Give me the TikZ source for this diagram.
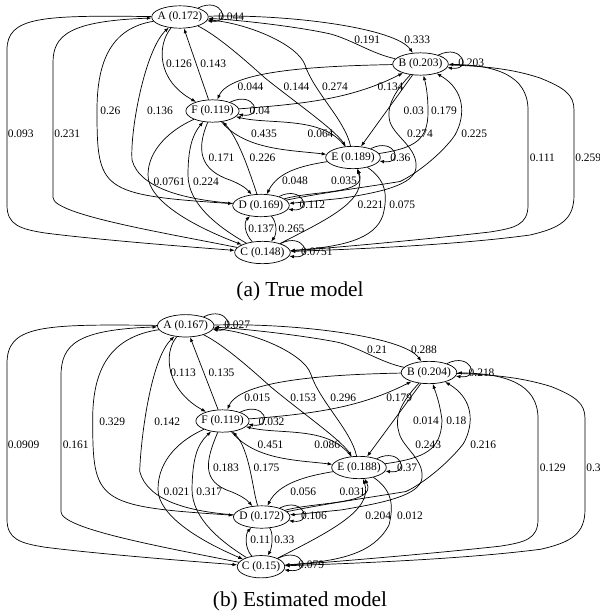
\documentclass[tikz,border=0pt]{standalone}
\usepackage{fontspec}
\setmainfont{Liberation Serif}
\usetikzlibrary{shapes.geometric,arrows.meta,calc}

\begin{document}
\begin{tikzpicture}[x=0.03cm, y=-0.03cm, line width=0.6pt, >={Latex[length=4pt,width=3pt]}, font=\fontsize{9.8}{11}\selectfont]
	\tikzstyle{state} = [ellipse, draw, inner xsep=-2pt, inner ysep=2.3pt]
	\tikzstyle{prob} = [anchor=west, inner sep=0pt]
	\tikzstyle{caption} = [font=\fontsize{18.2}{22}\selectfont]
	\useasboundingbox (0,0) rectangle (600,616);

	% (a) true model
	\node[state] (tA) at (180, 17) {A (0.172)};
	\node[state] (tB) at (420.5, 64) {B (0.203)};
	\node[state] (tF) at (212.5, 111) {F (0.119)};
	\node[state] (tE) at (353, 157.5) {E (0.189)};
	\node[state] (tD) at (261, 205.5) {D (0.169)};
	\node[state] (tC) at (262.5, 252.5) {C (0.148)};
	\draw [->] (tA) .. controls ($(tA)+(42,-21)$) and ($(tA)+(52,7)$) .. (tA) node[prob] at (218,17) {0.044};
	\draw [->] (tA) .. controls ($(tA)+(110,-3)$) and ($(tB)+(-25,-36)$) .. (tB) node[prob] at (404,40) {0.333};
	\draw [->] (tB) .. controls ($(tB)+(-48,-10)$) and ($(tB)+(-68,-24)$) .. ($(tB)+(-90,-30)$) .. controls ($(tA)+(120,10)$) and ($(tA)+(60,3)$) .. (tA) node[prob] at (354,40) {0.191};
	\draw [->] (tA) .. controls ($(tA)+(-23,28)$) and ($(tF)+(-56,-31)$) .. (tF) node[prob] at (165.7,64) {0.126};
	\draw [->] (tF) -- (tA) node[prob] at (200,64) {0.143};
	\draw [->] (tA) .. controls ($(tA)+(38,19)$) and ($(tA)+(65,43)$) .. ($(tA)+(85,61)$) .. controls ($(tE)+(-58,-55.5)$) and ($(tE)+(-18,-27.5)$) .. (tE) node[prob] at (283.3,87) {0.144};
	\draw [->] (tE) .. controls ($(tE)+(-8,-37.5)$) and ($(tE)+(-39,-65.5)$) .. ($(tA)+(125,48)$) .. controls ($(tA)+(118,28)$) and ($(tA)+(70,7)$) .. (tA) node[prob] at (321.7,87) {0.274};
	\draw [->] (tA) .. controls ($(tA)+(-68,11)$) and ($(tA)+(-83,43)$) .. ($(tA)+(-83,93)$) .. controls ($(tD)+(-164,-15.5)$) and ($(tD)+(-161,-10.5)$) .. (tD) node[prob] at (100,111) {0.26};
	\draw [->] (tD) .. controls ($(tD)+(-71,-5.5)$) and ($(tD)+(-121,-15.5)$) .. ($(tD)+(-129,-45.5)$) .. controls ($(tA)+(-50,113)$) and ($(tA)+(-35,33)$) .. (tA) node[prob] at (146.7,111) {0.136};
	\draw [->] (tA) .. controls ($(tA)+(-140,-2)$) and ($(tA)+(-173,0)$) .. ($(tC)+(-255.5,-202.5)$) -- ($(tC)+(-255.5,-47.5)$) .. controls ($(tC)+(-255.5,-27.5)$) and ($(tC)+(-242.5,-23.5)$) .. ($(tC)+(-217.5,-19.5)$) .. controls ($(tC)+(-162.5,-12.5)$) and ($(tC)+(-72.5,-5.5)$) .. (tC) node[prob] at (7.5,134) {0.093};
	\draw [->] (tC) .. controls ($(tC)+(-100,-20)$) and ($(tC)+(-209.5,-38)$) .. ($(tC)+(-209.5,-55)$) -- ($(tC)+(-209.5,-190)$) .. controls ($(tA)+(-127,18)$) and ($(tA)+(-110,4)$) .. (tA) node[prob] at (54,134) {0.231};
	\draw [->] (tB) .. controls ($(tB)+(42,-21)$) and ($(tB)+(52,7)$) .. (tB) node[prob] at (458,63) {0.203};
	\draw [->] (tB) .. controls ($(tB)+(-100,2)$) and ($(tF)+(17.5,-41)$) .. (tF) node[prob] at (237.3,87) {0.044};
	\draw [->] (tF) .. controls ($(tF)+(87.5,-7)$) and ($(tB)+(-70.5,36)$) .. (tB) node[prob] at (377.3,87) {0.134};
	\draw [->] (tB) -- (tE) node[prob] at (403.3,111) {0.03};
	\draw [->] (tE) .. controls ($(tE)+(62,-9.5)$) and ($(tE)+(75,-17.5)$) .. ($(tB)+(7.5,48)$) .. controls ($(tB)+(7.5,31)$) and ($(tB)+(5.5,21)$) .. (tB) node[prob] at (430.7,111) {0.179};
	\draw [->] (tB) .. controls ($(tB)+(-22.5,24)$) and ($(tB)+(-35.5,41)$) .. ($(tB)+(-30.5,58)$) .. controls ($(tE)+(42,-20.5)$) and ($(tE)+(65,-9.5)$) .. ($(tE)+(63,10.5)$) .. controls ($(tE)+(61,27.5)$) and ($(tE)+(27,35)$) .. ($(tD)+(79,-7)$) .. controls ($(tD)+(59,-5)$) and ($(tD)+(39,-3)$) .. (tD) node[prob] at (406.7,134) {0.274};
	\draw [->] (tD) .. controls ($(tD)+(59,-12.5)$) and ($(tE)+(17,29)$) .. ($(tE)+(47,24)$) .. controls ($(tE)+(67,14.5)$) and ($(tE)+(92,-7.5)$) .. ($(tB)+(34.5,71)$) .. controls ($(tB)+(45.5,51)$) and ($(tB)+(44.5,26)$) .. (tB) node[prob] at (461,134) {0.225};
	\draw [->] (tC) .. controls ($(tC)+(57.5,-3.5)$) and ($(tC)+(157.5,-12.5)$) .. ($(tC)+(227.5,-20.5)$) .. controls ($(tC)+(252.5,-24.5)$) and ($(tC)+(265.5,-27.5)$) .. ($(tC)+(265.5,-47.5)$) -- ($(tB)+(107.5,46)$) .. controls ($(tB)+(107.5,11)$) and ($(tB)+(74.5,1)$) .. (tB) node[prob] at (529.5,158) {0.111};
	\draw [->] (tB) .. controls ($(tB)+(59.5,2)$) and ($(tB)+(89.5,4)$) .. ($(tB)+(119.5,14)$) .. controls ($(tB)+(144.5,24)$) and ($(tB)+(153.5,31)$) .. ($(tB)+(153.5,46)$) -- ($(tC)+(311.5,-57.5)$) .. controls ($(tC)+(311.5,-32.5)$) and ($(tC)+(297.5,-24.5)$) .. ($(tC)+(267.5,-17.5)$) .. controls ($(tC)+(187.5,-6.5)$) and ($(tC)+(67.5,-2.5)$) .. (tC) node[prob] at (575,158) {0.259};
	\draw [->] (tF) .. controls ($(tF)+(42,-21)$) and ($(tF)+(52,7)$) .. (tF) node[prob] at (249.3,111) {0.04};
	\draw [->] (tF) .. controls ($(tF)+(32.5,39)$) and ($(tE)+(-63,-7.5)$) .. (tE) node[prob] at (250.7,134) {0.435};
	\draw [->] (tE) .. controls ($(tE)+(-30,-42)$) and ($(tF)+(57.5,14)$) .. (tF) node[prob] at (307.3,134) {0.064};
	\draw [->] (tF) .. controls ($(tF)+(-16.5,39)$) and ($(tD)+(-61,-35.5)$) .. ($(tD)+(-31,-25.5)$) .. controls ($(tD)+(-21,-21.5)$) and ($(tD)+(-15,-17.5)$) .. (tD) node[prob] at (208.3,158) {0.171};
	\draw [->] (tD) .. controls ($(tD)+(-9,-25.5)$) and ($(tF)+(27.5,29)$) .. (tF) node[prob] at (249.3,158) {0.226};
	\draw [->] (tF) .. controls ($(tF)+(-42.5,19)$) and ($(tF)+(-64.5,39)$) .. ($(tC)+(-114.5,-77.5)$) .. controls ($(tC)+(-114.5,-52.5)$) and ($(tC)+(-72.5,-27.5)$) .. (tC) node[prob] at (153.3,181.7) {0.0761};
	\draw [->] (tC) .. controls ($(tC)+(-42.5,-24.5)$) and ($(tC)+(-74.5,-47.5)$) .. ($(tC)+(-74.5,-77.5)$) .. controls ($(tF)+(-24.5,39)$) and ($(tF)+(-20.5,24)$) .. (tF) node[prob] at (192.7,181.7) {0.224};
	\draw [->] (tE) .. controls ($(tE)+(42,-21)$) and ($(tE)+(52,7)$) .. (tE) node[prob] at (390,158) {0.36};
	\draw [->] (tE) .. controls ($(tE)+(-53,8.5)$) and ($(tD)+(17,-33.5)$) .. (tD) node[prob] at (281.7,181) {0.048};
	\draw [->] (tD) .. controls ($(tD)+(54,-15.5)$) and ($(tE)+(15,37.5)$) .. (tE) node[prob] at (330.7,181) {0.035};
	\draw [->] (tC) .. controls ($(tC)+(67.5,-34.5)$) and ($(tE)+(15,42.5)$) .. (tE) node[prob] at (357.3,205) {0.221};
	\draw [->] (tE) .. controls ($(tE)+(33,22.5)$) and ($(tE)+(35,37.5)$) .. ($(tE)+(30,57.5)$) .. controls ($(tC)+(112.5,-12.5)$) and ($(tC)+(77.5,-5.5)$) .. (tC) node[prob] at (389,205) {0.075};
	\draw [->] (tD) .. controls ($(tD)+(42,-21)$) and ($(tD)+(52,7)$) .. (tD) node[prob] at (299.3,205) {0.112};
	\draw [->] (tC) .. controls ($(tC)+(-18.5,-19.5)$) and ($(tD)+(-17,16.5)$) .. (tD) node[prob] at (248,228.3) {0.137};
	\draw [->] (tD) .. controls ($(tD)+(16,16.5)$) and ($(tC)+(14.5,-18.5)$) .. (tC) node[prob] at (278.3,228.3) {0.265};
	\draw [->] (tC) .. controls ($(tC)+(42,-21)$) and ($(tC)+(52,7)$) .. (tC) node[prob] at (300.7,251.7) {0.0751};
	\node[caption] (capa) at (300,291) {(a) True model};

	% (b) estimated model
	\node[state] (eA) at (185.7, 325.8) {A (0.167)};
	\node[state] (eB) at (429, 372.5) {B (0.204)};
	\node[state] (eF) at (222.5, 421) {F (0.119)};
	\node[state] (eE) at (359, 467.5) {E (0.188)};
	\node[state] (eD) at (261.7, 517) {D (0.172)};
	\node[state] (eC) at (261, 566.7) {C (0.15)};
	\draw [->] (eA) .. controls ($(eA)+(42,-21)$) and ($(eA)+(52,7)$) .. (eA) node[prob] at (224,325) {0.027};
	\draw [->] (eA) .. controls ($(eA)+(110,-3)$) and ($(eB)+(-25,-36)$) .. (eB) node[prob] at (410.7,349.3) {0.288};
	\draw [->] (eB) .. controls ($(eB)+(-48,-10)$) and ($(eB)+(-68,-24)$) .. ($(eB)+(-90,-30)$) .. controls ($(eA)+(120,10)$) and ($(eA)+(60,3)$) .. (eA) node[prob] at (366.7,349.3) {0.21};
	\draw [->] (eA) .. controls ($(eA)+(-23,28)$) and ($(eF)+(-56,-31)$) .. (eF) node[prob] at (170,372.7) {0.113};
	\draw [->] (eF) -- (eA) node[prob] at (208.3,372.7) {0.135};
	\draw [->] (eA) .. controls ($(eA)+(38,19)$) and ($(eA)+(65,43)$) .. ($(eA)+(85,61)$) .. controls ($(eE)+(-58,-55.5)$) and ($(eE)+(-18,-27.5)$) .. (eE) node[prob] at (290,397.3) {0.153};
	\draw [->] (eE) .. controls ($(eE)+(-8,-37.5)$) and ($(eE)+(-39,-65.5)$) .. ($(eA)+(125,48)$) .. controls ($(eA)+(118,28)$) and ($(eA)+(70,7)$) .. (eA) node[prob] at (330,397.3) {0.296};
	\draw [->] (eA) .. controls ($(eA)+(-75,11)$) and ($(eA)+(-93,43)$) .. ($(eA)+(-93,93)$) .. controls ($(eD)+(-169,-15.5)$) and ($(eD)+(-166,-10.5)$) .. (eD) node[prob] at (99,421.7) {0.329};
	\draw [->] (eD) .. controls ($(eD)+(-71,-5.5)$) and ($(eD)+(-114,-15.5)$) .. ($(eD)+(-122,-45.5)$) .. controls ($(eA)+(-45,113)$) and ($(eA)+(-35,33)$) .. (eA) node[prob] at (154,421.7) {0.142};
	\draw [->] (eA) .. controls ($(eA)+(-146,-2)$) and ($(eA)+(-179,0)$) .. ($(eC)+(-254,-202.5)$) -- ($(eC)+(-254,-47.5)$) .. controls ($(eC)+(-254,-27.5)$) and ($(eC)+(-241,-23.5)$) .. ($(eC)+(-216,-19.5)$) .. controls ($(eC)+(-161,-12.5)$) and ($(eC)+(-71,-5.5)$) .. (eC) node[prob] at (7.5,445) {0.0909};
	\draw [->] (eC) .. controls ($(eC)+(-100,-20)$) and ($(eC)+(-200,-38)$) .. ($(eC)+(-200,-55)$) -- ($(eC)+(-200,-190)$) .. controls ($(eA)+(-125,18)$) and ($(eA)+(-108,4)$) .. (eA) node[prob] at (62.5,445) {0.161};
	\draw [->] (eB) .. controls ($(eB)+(42,-21)$) and ($(eB)+(52,7)$) .. (eB) node[prob] at (468.3,372.7) {0.218};
	\draw [->] (eB) .. controls ($(eB)+(-100,2)$) and ($(eF)+(17.5,-41)$) .. (eF) node[prob] at (244,397.3) {0.015};
	\draw [->] (eF) .. controls ($(eF)+(87.5,-7)$) and ($(eB)+(-70.5,36)$) .. (eB) node[prob] at (386,397.3) {0.179};
	\draw [->] (eB) -- (eE) node[prob] at (412.7,420.7) {0.014};
	\draw [->] (eE) .. controls ($(eE)+(66,-9.5)$) and ($(eE)+(82,-17.5)$) .. ($(eB)+(13,48)$) .. controls ($(eB)+(11,31)$) and ($(eB)+(7,21)$) .. (eB) node[prob] at (446,420.7) {0.18};
	\draw [->] (eB) .. controls ($(eB)+(-22.5,24)$) and ($(eB)+(-35.5,41)$) .. ($(eB)+(-30.5,58)$) .. controls ($(eE)+(42,-20.5)$) and ($(eE)+(65,-9.5)$) .. ($(eE)+(63,10.5)$) .. controls ($(eE)+(61,27.5)$) and ($(eE)+(27,35)$) .. ($(eD)+(79,-7)$) .. controls ($(eD)+(59,-5)$) and ($(eD)+(39,-3)$) .. (eD) node[prob] at (415,445) {0.243};
	\draw [->] (eD) .. controls ($(eD)+(59,-12.5)$) and ($(eE)+(17,29)$) .. ($(eE)+(47,24)$) .. controls ($(eE)+(67,14.5)$) and ($(eE)+(92,-7.5)$) .. ($(eB)+(34.5,71)$) .. controls ($(eB)+(45.5,51)$) and ($(eB)+(44.5,26)$) .. (eB) node[prob] at (470,445) {0.216};
	\draw [->] (eC) .. controls ($(eC)+(57.5,-3.5)$) and ($(eC)+(165,-12.5)$) .. ($(eC)+(239,-20.5)$) .. controls ($(eC)+(264,-24.5)$) and ($(eC)+(277,-27.5)$) .. ($(eC)+(277,-47.5)$) -- ($(eB)+(109,46)$) .. controls ($(eB)+(109,11)$) and ($(eB)+(76,1)$) .. (eB) node[prob] at (539.5,467.3) {0.129};
	\draw [->] (eB) .. controls ($(eB)+(59.5,2)$) and ($(eB)+(89.5,4)$) .. ($(eB)+(122,14)$) .. controls ($(eB)+(147,24)$) and ($(eB)+(156,31)$) .. ($(eB)+(156,46)$) -- ($(eC)+(324,-57.5)$) .. controls ($(eC)+(324,-32.5)$) and ($(eC)+(310,-24.5)$) .. ($(eC)+(280,-17.5)$) .. controls ($(eC)+(195,-6.5)$) and ($(eC)+(67.5,-2.5)$) .. (eC) node[prob] at (586,467.3) {0.3};
	\draw [->] (eF) .. controls ($(eF)+(42,-21)$) and ($(eF)+(52,7)$) .. (eF) node[prob] at (258.3,421.7) {0.032};
	\draw [->] (eF) .. controls ($(eF)+(32.5,39)$) and ($(eE)+(-63,-7.5)$) .. (eE) node[prob] at (257.3,445) {0.451};
	\draw [->] (eE) .. controls ($(eE)+(-30,-42)$) and ($(eF)+(57.5,14)$) .. (eF) node[prob] at (314,445) {0.086};
	\draw [->] (eF) .. controls ($(eF)+(-16.5,39)$) and ($(eD)+(-61,-35.5)$) .. ($(eD)+(-31,-25.5)$) .. controls ($(eD)+(-21,-21.5)$) and ($(eD)+(-15,-17.5)$) .. (eD) node[prob] at (212.7,467.3) {0.183};
	\draw [->] (eD) .. controls ($(eD)+(-9,-25.5)$) and ($(eF)+(27.5,29)$) .. (eF) node[prob] at (253.3,467.3) {0.175};
	\draw [->] (eF) .. controls ($(eF)+(-42.5,19)$) and ($(eF)+(-64.5,39)$) .. ($(eC)+(-103,-77.5)$) .. controls ($(eC)+(-103,-52.5)$) and ($(eC)+(-65,-27.5)$) .. (eC) node[prob] at (163.3,491.7) {0.021};
	\draw [->] (eC) .. controls ($(eC)+(-39,-24.5)$) and ($(eC)+(-69,-47.5)$) .. ($(eC)+(-69,-77.5)$) .. controls ($(eF)+(-30,39)$) and ($(eF)+(-26,24)$) .. (eF) node[prob] at (196,491.7) {0.317};
	\draw [->] (eE) .. controls ($(eE)+(42,-21)$) and ($(eE)+(52,7)$) .. (eE) node[prob] at (396.7,467.3) {0.37};
	\draw [->] (eE) .. controls ($(eE)+(-53,8.5)$) and ($(eD)+(17,-33.5)$) .. (eD) node[prob] at (290,491.7) {0.056};
	\draw [->] (eD) .. controls ($(eD)+(54,-15.5)$) and ($(eE)+(19,37.5)$) .. (eE) node[prob] at (339.3,491.7) {0.031};
	\draw [->] (eC) .. controls ($(eC)+(67.5,-34.5)$) and ($(eE)+(15,42.5)$) .. (eE) node[prob] at (365,516) {0.204};
	\draw [->] (eE) .. controls ($(eE)+(33,22.5)$) and ($(eE)+(35,37.5)$) .. ($(eE)+(30,57.5)$) .. controls ($(eC)+(112.5,-12.5)$) and ($(eC)+(77.5,-5.5)$) .. (eC) node[prob] at (396.7,516) {0.012};
	\draw [->] (eD) .. controls ($(eD)+(42,-21)$) and ($(eD)+(52,7)$) .. (eD) node[prob] at (300.7,516) {0.106};
	\draw [->] (eC) .. controls ($(eC)+(-17,-19.5)$) and ($(eD)+(-16,16.5)$) .. (eD) node[prob] at (250,540) {0.11};
	\draw [->] (eD) .. controls ($(eD)+(12,16.5)$) and ($(eC)+(11,-18.5)$) .. (eC) node[prob] at (274,540) {0.33};
	\draw [->] (eC) .. controls ($(eC)+(42,-21)$) and ($(eC)+(52,7)$) .. (eC) node[prob] at (298,565) {0.079};
	\node[caption] (capb) at (300,601.5) {(b) Estimated model};
\end{tikzpicture}
\end{document}
